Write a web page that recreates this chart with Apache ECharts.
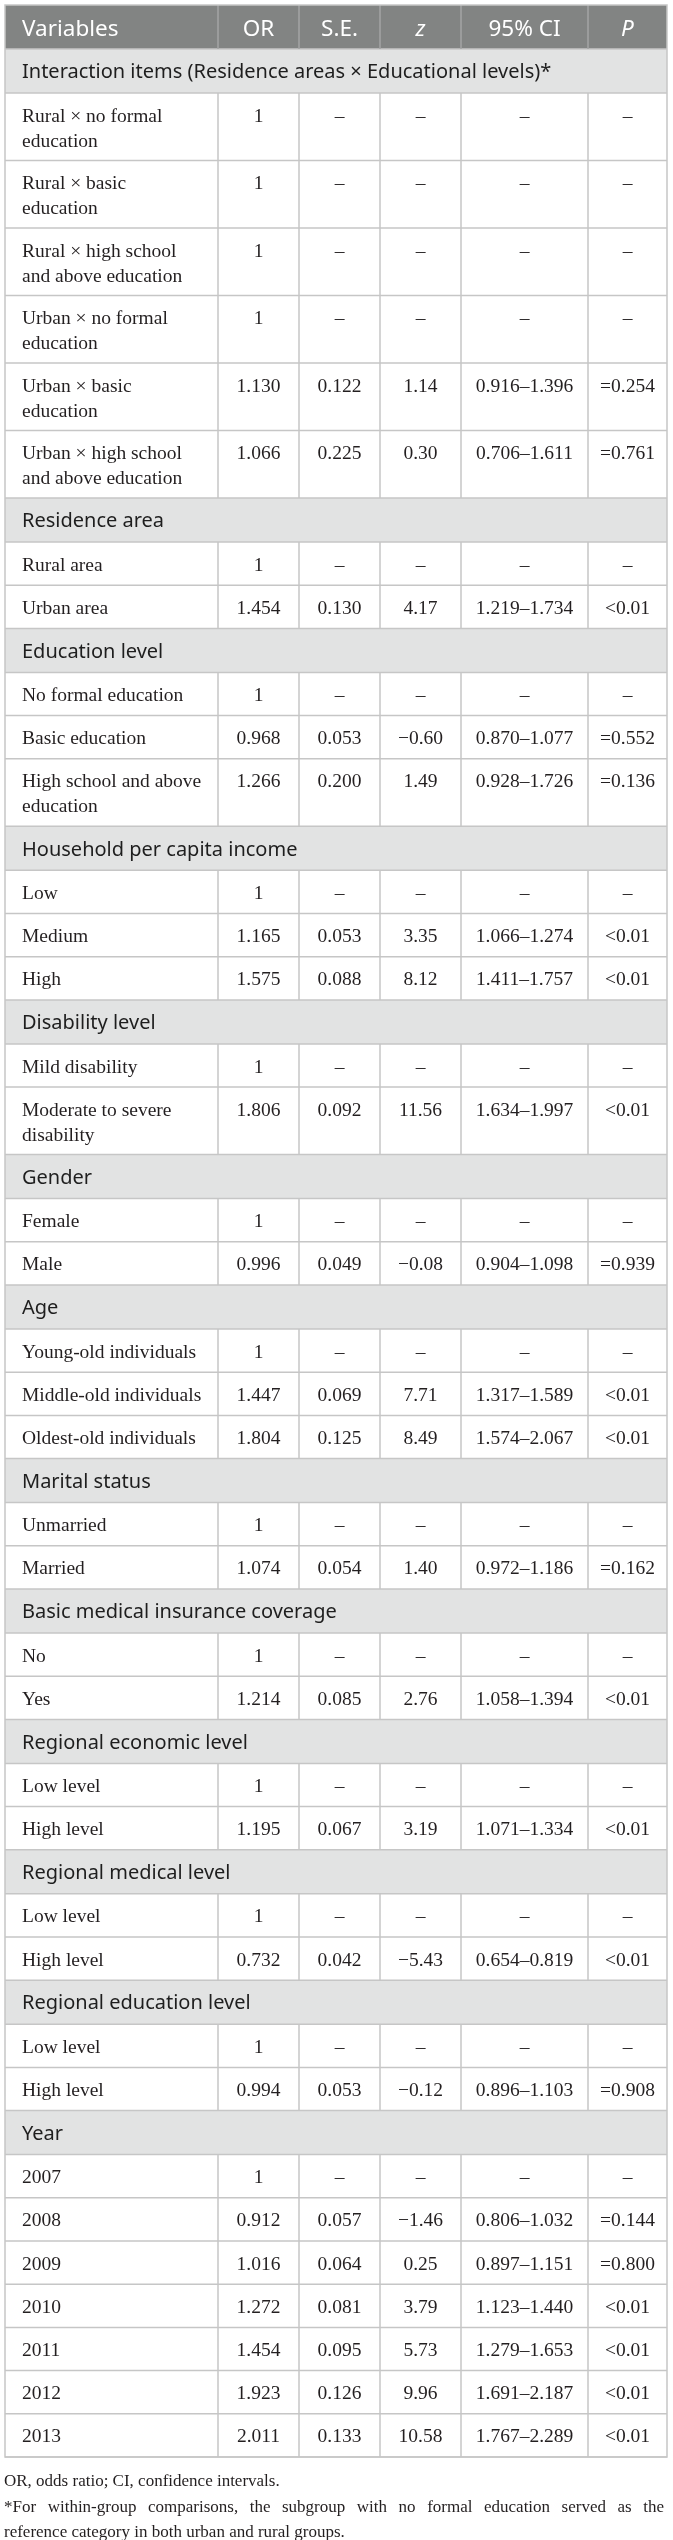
<!DOCTYPE html>
<html>
<head>
<meta charset="utf-8">
<script src="https://cdn.jsdelivr.net/npm/echarts@6/dist/echarts.min.js"></script>
<style>
  html, body { margin: 0; padding: 0; background: #fff; }
  #main { width: 673px; height: 2540px; }
</style>
</head>
<body>
<div id="main"></div>
<script>
// table content
const headers = ['Variables', 'OR', 'S.E.', 'z', '95% CI', 'P'];

const groups = [
  'Interaction items (Residence areas × Educational levels)*',
  'Residence area',
  'Education level',
  'Household per capita income',
  'Disability level',
  'Gender',
  'Age',
  'Marital status',
  'Basic medical insurance coverage',
  'Regional economic level',
  'Regional medical level',
  'Regional education level',
  'Year'
];
const groupSizes = [6, 2, 3, 3, 2, 2, 3, 2, 2, 2, 2, 2, 7];

const variables = [
  'Rural × no formal\neducation',
  'Rural × basic\neducation',
  'Rural × high school\nand above education',
  'Urban × no formal\neducation',
  'Urban × basic\neducation',
  'Urban × high school\nand above education',
  'Rural area', 'Urban area',
  'No formal education', 'Basic education', 'High school and above\neducation',
  'Low', 'Medium', 'High',
  'Mild disability', 'Moderate to severe\ndisability',
  'Female', 'Male',
  'Young-old individuals', 'Middle-old individuals', 'Oldest-old individuals',
  'Unmarried', 'Married',
  'No', 'Yes',
  'Low level', 'High level',
  'Low level', 'High level',
  'Low level', 'High level',
  '2007', '2008', '2009', '2010', '2011', '2012', '2013'
];

const orValues = [
  1, 1, 1, 1, 1.130, 1.066,
  1, 1.454,
  1, 0.968, 1.266,
  1, 1.165, 1.575,
  1, 1.806,
  1, 0.996,
  1, 1.447, 1.804,
  1, 1.074,
  1, 1.214,
  1, 1.195,
  1, 0.732,
  1, 0.994,
  1, 0.912, 1.016, 1.272, 1.454, 1.923, 2.011
];
const seValues = [
  null, null, null, null, 0.122, 0.225,
  null, 0.130,
  null, 0.053, 0.200,
  null, 0.053, 0.088,
  null, 0.092,
  null, 0.049,
  null, 0.069, 0.125,
  null, 0.054,
  null, 0.085,
  null, 0.067,
  null, 0.042,
  null, 0.053,
  null, 0.057, 0.064, 0.081, 0.095, 0.126, 0.133
];
const zValues = [
  null, null, null, null, 1.14, 0.30,
  null, 4.17,
  null, -0.60, 1.49,
  null, 3.35, 8.12,
  null, 11.56,
  null, -0.08,
  null, 7.71, 8.49,
  null, 1.40,
  null, 2.76,
  null, 3.19,
  null, -5.43,
  null, -0.12,
  null, -1.46, 0.25, 3.79, 5.73, 9.96, 10.58
];
const ciLow = [
  null, null, null, null, 0.916, 0.706,
  null, 1.219,
  null, 0.870, 0.928,
  null, 1.066, 1.411,
  null, 1.634,
  null, 0.904,
  null, 1.317, 1.574,
  null, 0.972,
  null, 1.058,
  null, 1.071,
  null, 0.654,
  null, 0.896,
  null, 0.806, 0.897, 1.123, 1.279, 1.691, 1.767
];
const ciHigh = [
  null, null, null, null, 1.396, 1.611,
  null, 1.734,
  null, 1.077, 1.726,
  null, 1.274, 1.757,
  null, 1.997,
  null, 1.098,
  null, 1.589, 2.067,
  null, 1.186,
  null, 1.394,
  null, 1.334,
  null, 0.819,
  null, 1.103,
  null, 1.032, 1.151, 1.440, 1.653, 2.187, 2.289
];
const pValues = [
  '–', '–', '–', '–', '=0.254', '=0.761',
  '–', '<0.01',
  '–', '=0.552', '=0.136',
  '–', '<0.01', '<0.01',
  '–', '<0.01',
  '–', '=0.939',
  '–', '<0.01', '<0.01',
  '–', '=0.162',
  '–', '<0.01',
  '–', '<0.01',
  '–', '<0.01',
  '–', '=0.908',
  '–', '=0.144', '=0.800', '<0.01', '<0.01', '<0.01', '<0.01'
];

const footnotes = [
  'OR, odds ratio; CI, confidence intervals.',
  '*For within-group comparisons, the subgroup with no formal education served as the',
  'reference category in both urban and rural groups.'
];

// layout
const SERIF = '"Liberation Serif", "DejaVu Serif", serif';
const SANS = '"Noto Sans", "Open Sans", sans-serif';
const colX = [5, 218, 299, 380, 461, 588, 667];
const tableTop = 5;
const headerH = 44, sectionH = 44, rowH = 43.2, lineStep = 24.3;
const lineColor = '#c6c6c6';

const rows = [];
let cursor = tableTop;
rows.push({ kind: 'header', y0: cursor, y1: cursor + headerH });
cursor += headerH;
let k = 0;
groups.forEach((g, gi) => {
  rows.push({ kind: 'section', text: g, y0: cursor, y1: cursor + sectionH });
  cursor += sectionH;
  for (let j = 0; j < groupSizes[gi]; j++, k++) {
    const h = rowH + (variables[k].split('\n').length - 1) * lineStep;
    rows.push({ kind: 'body', idx: k, y0: cursor, y1: cursor + h });
    cursor += h;
  }
});
const tableBottom = cursor;

const fmt = (v, d) => v == null ? '–' : v.toFixed(d).replace('-', '−');
const cellTexts = i => [
  variables[i],
  seValues[i] == null ? String(orValues[i]) : orValues[i].toFixed(3),
  fmt(seValues[i], 3),
  fmt(zValues[i], 2),
  ciLow[i] == null ? '–' : ciLow[i].toFixed(3) + '–' + ciHigh[i].toFixed(3),
  pValues[i]
];

function renderRow(params, api) {
  const r = rows[params.dataIndex];
  const top = api.coord([0, api.value(0)])[1];
  const bottom = api.coord([0, api.value(1)])[1];
  const xs = colX.map(x => api.coord([x, 0])[0]);
  const children = [];
  const bg = r.kind === 'header' ? '#828483' : r.kind === 'section' ? '#e2e3e3' : '#ffffff';
  children.push({
    type: 'rect', z2: 0,
    shape: { x: xs[0], y: top, width: xs[6] - xs[0], height: bottom - top },
    style: { fill: bg }
  });
  children.push({
    type: 'line', z2: 10,
    shape: { x1: xs[0], y1: bottom, x2: xs[6], y2: bottom },
    style: { stroke: lineColor, lineWidth: 1.5 }
  });

  if (r.kind === 'section') {
    children.push({
      type: 'text', z2: 5,
      style: {
        text: r.text, x: xs[0] + 17, y: top + 23.5,
        fill: '#1e1e1e', fontSize: 20, fontFamily: SANS,
        align: 'left', verticalAlign: 'middle'
      }
    });
    return { type: 'group', children };
  }

  for (let c = 1; c < 6; c++) {
    children.push({
      type: 'line', z2: 10,
      shape: { x1: xs[c], y1: top, x2: xs[c], y2: bottom },
      style: { stroke: r.kind === 'header' ? '#a3a5a4' : lineColor, lineWidth: 1.5 }
    });
  }

  const texts = r.kind === 'header' ? headers : cellTexts(r.idx);
  texts.forEach((t, c) => {
    const x = c === 0 ? xs[0] + 17 : (xs[c] + xs[c + 1]) / 2;
    const style = r.kind === 'header'
      ? {
          text: t, x, y: top + 24.5, fill: '#ffffff', fontSize: 22.5, fontFamily: SANS,
          fontStyle: (t === 'z' || t === 'P') ? 'italic' : 'normal',
          align: c === 0 ? 'left' : 'center', verticalAlign: 'middle'
        }
      : {
          text: t, x, y: top + 11, fill: '#231f20', fontSize: 19.5, fontFamily: SERIF,
          lineHeight: 25, align: c === 0 ? 'left' : 'center', verticalAlign: 'top'
        };
    children.push({ type: 'text', z2: 5, style });
  });
  return { type: 'group', children };
}

function renderBorder(params, api) {
  const p0 = api.coord([colX[0], api.value(0)]);
  const p1 = api.coord([colX[6], api.value(1)]);
  return {
    type: 'rect',
    shape: { x: p0[0], y: p0[1], width: p1[0] - p0[0], height: p1[1] - p0[1] },
    style: { fill: 'none', stroke: lineColor, lineWidth: 1.5 }
  };
}

// footnotes, second line justified to the table width
const noteFont = 17;
const measureCtx = document.createElement('canvas').getContext('2d');
measureCtx.font = noteFont + 'px ' + SERIF;
const noteLeft = 4, noteRight = 664;

function renderNote(params, api) {
  const i = params.dataIndex;
  const y = api.coord([0, api.value(0)])[1];
  const left = api.coord([noteLeft, 0])[0];
  const right = api.coord([noteRight, 0])[0];
  const base = { y, fill: '#231f20', fontSize: noteFont, fontFamily: SERIF, verticalAlign: 'middle', align: 'left' };
  if (i !== 1) {
    return { type: 'text', style: Object.assign({ text: footnotes[i], x: left }, base) };
  }
  const words = footnotes[i].split(' ');
  const widths = words.map(w => measureCtx.measureText(w).width);
  const total = widths.reduce((a, b) => a + b, 0);
  const gap = (right - left - total) / (words.length - 1);
  let x = left;
  const children = words.map((w, j) => {
    const el = { type: 'text', style: Object.assign({ text: w, x }, base) };
    x += widths[j] + gap;
    return el;
  });
  return { type: 'group', children };
}

const chart = echarts.init(document.getElementById('main'));
chart.setOption({
  animation: false,
  grid: { left: 0, right: 0, top: 0, bottom: 0 },
  xAxis: { type: 'value', min: 0, max: 673, show: false },
  yAxis: { type: 'value', min: 0, max: 2540, inverse: true, show: false },
  series: [
    {
      type: 'custom',
      renderItem: renderRow,
      data: rows.map(r => [r.y0, r.y1]),
      silent: true
    },
    {
      type: 'custom',
      renderItem: renderBorder,
      data: [[tableTop, tableBottom]],
      z: 3,
      silent: true
    },
    {
      type: 'custom',
      renderItem: renderNote,
      data: footnotes.map((t, i) => [tableBottom + 25 + i * 25.5]),
      silent: true
    }
  ]
});
</script>
</body>
</html>
